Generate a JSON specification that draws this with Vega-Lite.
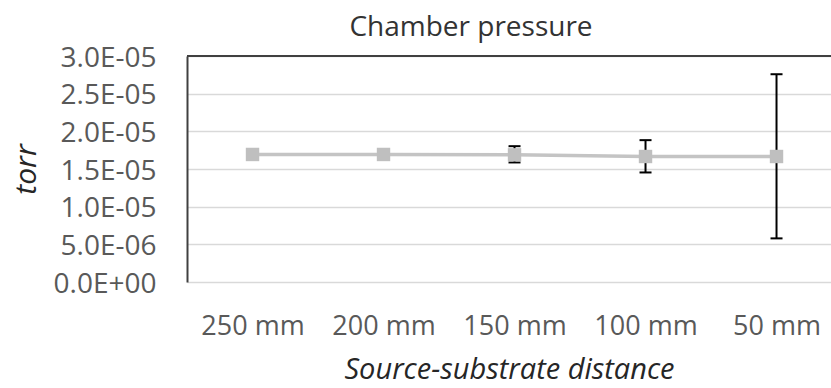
{
  "$schema": "https://vega.github.io/schema/vega-lite/v6.json",
  "autosize": "none",
  "width": 644,
  "height": 226,
  "padding": {"left": 187, "top": 56, "right": 0, "bottom": 106},
  "background": "white",
  "config": {
    "font": "Open Sans",
    "view": {"stroke": null}
  },
  "title": {
    "text": "Chamber pressure",
    "font": "Open Sans",
    "fontSize": 28,
    "fontWeight": "normal",
    "color": "#333333",
    "anchor": "middle",
    "baseline": "alphabetic",
    "offset": -4,
    "dy": 16,
    "dx": -38
  },
  "data": {
    "values": [
      {"d": "250 mm", "v": 1.693e-5, "lo": null, "hi": null},
      {"d": "200 mm", "v": 1.693e-5, "lo": null, "hi": null},
      {"d": "150 mm", "v": 1.688e-5, "lo": 1.587e-5, "hi": 1.803e-5},
      {"d": "100 mm", "v": 1.666e-5, "lo": 1.454e-5, "hi": 1.883e-5},
      {"d": "50 mm", "v": 1.666e-5, "lo": 5.79e-6, "hi": 2.758e-5}
    ]
  },
  "encoding": {
    "x": {
      "field": "d",
      "type": "ordinal",
      "sort": ["250 mm", "200 mm", "150 mm", "100 mm", "50 mm"],
      "scale": {"type": "point", "padding": 0.458, "align": 0.546},
      "axis": {
        "title": "Source-substrate distance",
        "titleFont": "Open Sans",
        "titleFontSize": 29,
        "titleFontStyle": "italic",
        "titleFontWeight": "normal",
        "titleColor": "#262626",
        "titlePadding": 16,
        "labelFont": "Open Sans",
        "labelFontSize": 27,
        "labelColor": "#595959",
        "labelAngle": 0,
        "labelPadding": 31,
        "ticks": false,
        "tickSize": 0,
        "domain": false,
        "grid": false
      }
    },
    "y": {
      "field": "v",
      "type": "quantitative",
      "scale": {"domain": [0, 3e-5], "nice": false, "zero": true},
      "axis": {
        "title": "torr",
        "titleFont": "Open Sans",
        "titleFontSize": 30,
        "titleFontStyle": "italic",
        "titleFontWeight": "normal",
        "titleColor": "#262626",
        "titlePadding": 12,
        "values": [0, 0.000005, 0.00001, 0.000015, 0.00002, 0.000025, 0.00003],
        "tickCount": 7,
        "labelExpr": "replace(replace(format(datum.value, '.1e'), 'e-', 'E-0'), 'e+', 'E+0')",
        "labelOverlap": false,
        "labelFont": "Open Sans",
        "labelFontSize": 28,
        "labelColor": "#595959",
        "labelPadding": 31,
        "labelOffset": 2,
        "ticks": false,
        "tickSize": 0,
        "domain": true,
        "domainColor": "#404040",
        "domainWidth": 2,
        "grid": true,
        "gridColor": "#D9D9D9",
        "gridWidth": 1.5
      }
    }
  },
  "layer": [
    {
      "mark": {"type": "line", "color": "#C4C4C4", "strokeWidth": 3.5}
    },
    {
      "mark": {"type": "rule", "color": "#404040", "strokeWidth": 2},
      "encoding": {"x": null, "y": {"datum": 0.00003, "type": "quantitative"}}
    },
    {
      "transform": [{"filter": {"field": "lo", "valid": true}}],
      "mark": {"type": "rule", "color": "#000000", "strokeWidth": 2},
      "encoding": {
        "y": {"field": "lo", "type": "quantitative"},
        "y2": {"field": "hi"}
      }
    },
    {
      "transform": [{"filter": {"field": "lo", "valid": true}}],
      "mark": {"type": "tick", "color": "#000000", "thickness": 2, "size": 12, "opacity": 1},
      "encoding": {"y": {"field": "lo", "type": "quantitative"}}
    },
    {
      "transform": [{"filter": {"field": "hi", "valid": true}}],
      "mark": {"type": "tick", "color": "#000000", "thickness": 2, "size": 12, "opacity": 1},
      "encoding": {"y": {"field": "hi", "type": "quantitative"}}
    },
    {
      "mark": {"type": "point", "shape": "square", "filled": true, "color": "#BFBFBF", "size": 180, "opacity": 1}
    }
  ]
}
